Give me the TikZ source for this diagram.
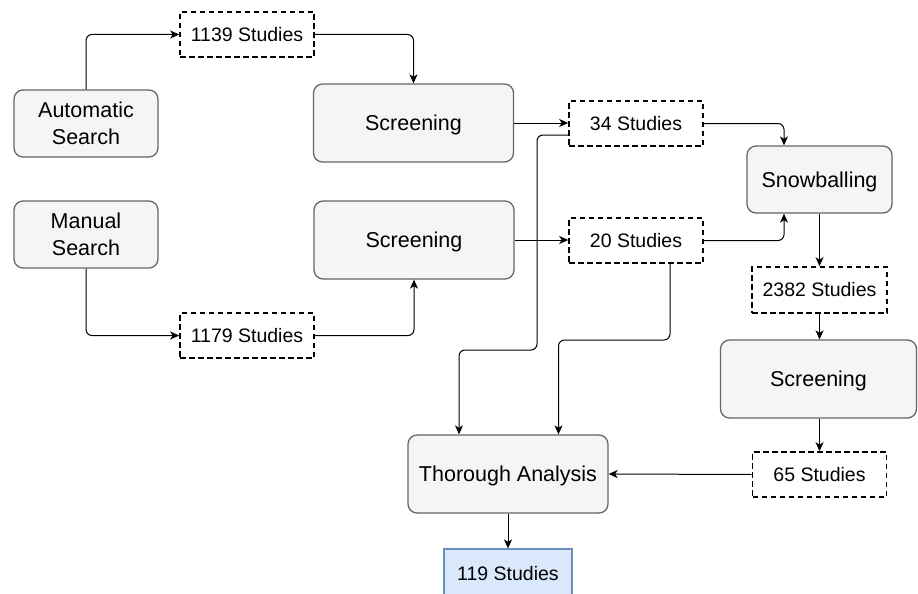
\documentclass[tikz,border=0pt]{standalone}
\usepackage{fontspec}
\setmainfont{Liberation Sans}
\usetikzlibrary{arrows.meta}
\definecolor{boxfill}{HTML}{F5F5F5}
\definecolor{boxgrey}{HTML}{666666}
\definecolor{bluefill}{HTML}{DAE8FC}
\definecolor{bluedraw}{HTML}{6C8EBF}
\begin{document}
\begin{tikzpicture}[x=1pt,y=-1pt,
 proc/.style={draw=boxgrey, fill=boxfill, rounded corners=9pt, line width=1.3pt,
   font=\fontsize{21.5}{27}\selectfont, align=center, inner sep=0pt},
 cnt/.style={draw=black, fill=white, dash pattern=on 5.5pt off 3.5pt, line width=1.6pt,
   font=\fontsize{19.5}{22}\selectfont, inner sep=0pt, minimum width=134pt, minimum height=45pt},
 conn/.style={-{Stealth[length=9pt,width=8pt,inset=2.5pt]}, line width=1pt, rounded corners=6pt}
]
\useasboundingbox (0,0) rectangle (918,594);
\node[proc, minimum width=144pt, minimum height=67pt] (auto) at (86,123.5) {Automatic\\Search};
\node[proc, minimum width=144pt, minimum height=67pt] (man) at (86,234.5) {Manual\\Search};
\node[cnt] (s1139) at (247,34.5) {1139 Studies};
\node[cnt] (s1179) at (247,335.5) {1179 Studies};
\node[proc, minimum width=200pt, minimum height=78pt, text depth=0pt] (scr1) at (413.5,123) {Screening};
\node[proc, minimum width=200pt, minimum height=78pt, text depth=0pt] (scr2) at (414,240) {Screening};
\node[cnt] (s34) at (636,123.5) {34 Studies};
\node[cnt] (s20) at (636,240.5) {20 Studies};
\node[proc, minimum width=145pt, minimum height=67pt, text depth=0pt] (snow) at (819.5,179.5) {Snowballing};
\node[cnt, minimum width=135pt, minimum height=46pt] (s2382) at (819.5,290) {2382 Studies};
\node[proc, minimum width=196pt, minimum height=78pt, text depth=0pt] (scr3) at (818.5,379) {Screening};
\node[cnt] (s65) at (819.5,474.5) {65 Studies};
\node[proc, minimum width=200pt, minimum height=78pt, text depth=0pt] (ta) at (508,474) {Thorough Analysis};
\node[draw=bluedraw, fill=bluefill, line width=1.3pt, minimum width=128pt, minimum height=50pt,
  inner sep=0pt, font=\fontsize{19.5}{22}\selectfont] (s119) at (508,574) {119 Studies};
\coordinate (k1) at (537,350);
\coordinate (k2) at (558.5,340);
\draw[conn] (auto.north) |- (s1139.west);
\draw[conn] (s1139.east) -| (scr1.north);
\draw[conn] (man.south) |- (s1179.west);
\draw[conn] (s1179.east) -| (scr2.south);
\draw[conn] (scr1.east) -- (scr1.east -| s34.west);
\draw[conn] (scr2.east) -- (scr2.east -| s20.west);
\draw[conn] (s34.east) -| ([xshift=-35.5pt]snow.north);
\draw[conn] (s20.east) -| ([xshift=-35.5pt]snow.south);
\draw[conn] (snow.south) -- (snow.south |- s2382.north);
\draw[conn] (s2382.south) -- (s2382.south |- scr3.north);
\draw[conn] (s2382.south |- scr3.south) -- (s65.north);
\draw[conn] (s65.west) -- (ta.east);
\draw[conn] (ta.south) -- (s119.north);
\draw[conn] ([yshift=-11.5pt]s34.west) -| (k1) -| ([xshift=-49pt]ta.north);
\draw[conn] ([xshift=34pt]s20.south) |- (k2) -- ([xshift=50.5pt]ta.north);
\end{tikzpicture}
\end{document}
